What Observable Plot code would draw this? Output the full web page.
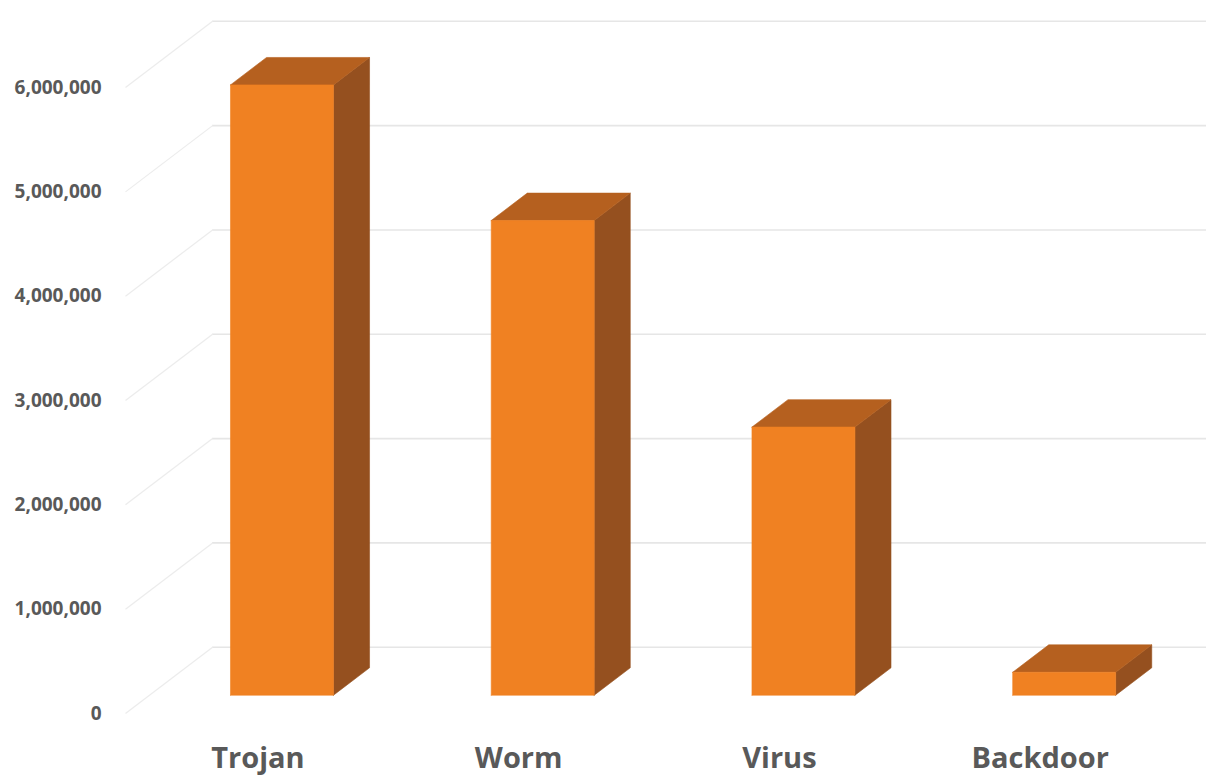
<!DOCTYPE html>
<html>
<head>
<meta charset="utf-8">
<script src="https://cdn.jsdelivr.net/npm/d3@7"></script>
<script src="https://cdn.jsdelivr.net/npm/@observablehq/plot@0.6"></script>
<style>
  html, body { margin: 0; padding: 0; background: #ffffff; }
  #chart { width: 1206px; height: 778px; }
</style>
</head>
<body>
<div id="chart"></div>
<script>
// ---- data ----
const categories = ["Trojan", "Worm", "Virus", "Backdoor"];
const values = [5850000, 4550000, 2570000, 220000];
const yTicks = [0, 1000000, 2000000, 3000000, 4000000, 5000000, 6000000];

// ---- oblique 3D geometry (in scale units) ----
const DX = 0.334;      // depth offset along x (category units)
const DY = 635000;     // depth offset along y (value units)
const HALF = 0.1975;   // half bar width
const D0 = 0.276, D1 = 0.69; // bar front/back depth
const X0 = -0.508, X1 = 3.638, YMAX = 6700000;

const proj = (c, v, d, key) => ({x: c + d * DX, y: v + d * DY, key});

const frontFaces = [], sideFaces = [], topFaces = [];
categories.forEach((cat, i) => {
  const v = values[i];
  const l = i - HALF, r = i + HALF;
  [[l, 0, D0], [r, 0, D0], [r, v, D0], [l, v, D0], [l, 0, D0]]
    .forEach(p => frontFaces.push(proj(p[0], p[1], p[2], cat)));
  [[r, 0, D0], [r, 0, D1], [r, v, D1], [r, v, D0], [r, 0, D0]]
    .forEach(p => sideFaces.push(proj(p[0], p[1], p[2], cat)));
  [[l, v, D0], [r, v, D0], [r, v, D1], [l, v, D1], [l, v, D0]]
    .forEach(p => topFaces.push(proj(p[0], p[1], p[2], cat)));
});

const cFront = "#F08122", cTop = "#B5601F", cSide = "#95501F";

const chart = Plot.plot({
  width: 1206,
  height: 778,
  marginLeft: 125,
  marginRight: 0,
  marginTop: 14,
  marginBottom: 65,
  style: {fontFamily: "'Open Sans', sans-serif", color: "#595959", background: "#ffffff", overflow: "visible"},
  x: {type: "linear", domain: [X0, X1]},
  y: {type: "linear", domain: [0, YMAX]},
  marks: [
    // back wall gridlines
    Plot.ruleY(yTicks, {y: d => d + DY, x1: X0 + DX, x2: X1, stroke: "#e6e6e6", strokeWidth: 1.6}),
    // side wall diagonal gridlines
    Plot.link(yTicks, {x1: X0, y1: d => d, x2: X0 + DX, y2: d => d + DY, stroke: "#ececec", strokeWidth: 1.2}),
    // bars
    Plot.line(sideFaces, {x: "x", y: "y", z: "key", fill: cSide, stroke: cSide, strokeWidth: 0.6}),
    Plot.line(topFaces, {x: "x", y: "y", z: "key", fill: cTop, stroke: cTop, strokeWidth: 0.6}),
    Plot.line(frontFaces, {x: "x", y: "y", z: "key", fill: cFront, stroke: cFront, strokeWidth: 0.6}),
    // axes
    Plot.axisY({ticks: yTicks, tickFormat: d3.format(","), tickSize: 0, tickPadding: 24,
      fontSize: 19, fontWeight: "bold", label: null}),
    Plot.axisX({ticks: [0, 1, 2, 3], tickFormat: i => categories[i], tickSize: 0, tickPadding: 34,
      fontSize: 29, fontWeight: "bold", label: null})
  ]
});
document.getElementById("chart").appendChild(chart);
</script>
</body>
</html>
